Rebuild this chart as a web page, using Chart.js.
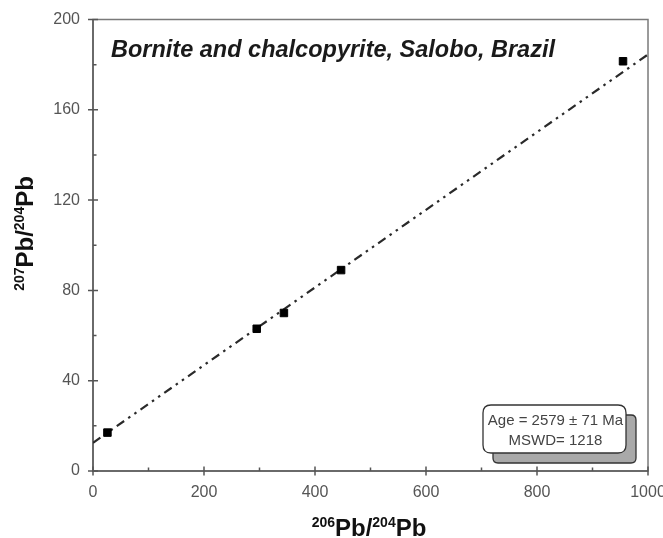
<!DOCTYPE html>
<html><head><meta charset="utf-8">
<script src="https://cdn.jsdelivr.net/npm/chart.js@4"></script>
<style>html,body{margin:0;padding:0;background:#fff}#wrap{width:663px;height:538px;position:relative}</style>
</head><body><div id="wrap"><canvas id="c" width="663" height="538"></canvas></div>
<script>
// ---- data ----
const sampleX = [26, 295, 344, 447, 955];
const sampleY = [17, 63, 70, 89, 181.5];
const regX = [0, 1000];
const regY = [12.5, 184.5];
const xMinorTicks = [100, 300, 500, 700, 900];
const yMinorTicks = [20, 60, 100, 140, 180];
const titleText = 'Bornite and chalcopyrite, Salobo, Brazil';
const ageLines = ['Age = 2579 \u00b1 71 Ma', 'MSWD= 1218'];

const FONT = "'Liberation Sans', Arial, sans-serif";

function drawComposite(ctx, parts, bigFont, smallFont, shift) {
  let total = 0;
  const widths = parts.map(p => { ctx.font = p[1] ? smallFont : bigFont; const w = ctx.measureText(p[0]).width; total += w; return w; });
  let x = -total / 2;
  parts.forEach((p, i) => {
    ctx.font = p[1] ? smallFont : bigFont;
    ctx.fillText(p[0], x, p[1] ? -shift : 0);
    x += widths[i];
  });
}

function roundRect(ctx, x, y, w, h, r) {
  ctx.beginPath();
  ctx.moveTo(x + r, y);
  ctx.lineTo(x + w - r, y);
  ctx.quadraticCurveTo(x + w, y, x + w, y + r);
  ctx.lineTo(x + w, y + h - r);
  ctx.quadraticCurveTo(x + w, y + h, x + w - r, y + h);
  ctx.lineTo(x + r, y + h);
  ctx.quadraticCurveTo(x, y + h, x, y + h - r);
  ctx.lineTo(x, y + r);
  ctx.quadraticCurveTo(x, y, x + r, y);
  ctx.closePath();
}

const decor = {
  id: 'decor',
  beforeDatasetsDraw(chart) {
    const {ctx, chartArea: a, scales: {x, y}} = chart;
    ctx.save();
    ctx.strokeStyle = '#7a7a7a';
    ctx.lineWidth = 1.5;
    ctx.strokeRect(a.left, a.top, a.right - a.left, a.bottom - a.top);
    ctx.strokeStyle = '#6a6a6a';
    ctx.lineWidth = 2;
    ctx.beginPath();
    ctx.moveTo(a.left, a.top); ctx.lineTo(a.left, a.bottom); ctx.lineTo(a.right, a.bottom);
    ctx.stroke();
    ctx.strokeStyle = '#555';
    ctx.lineWidth = 1.5;
    ctx.beginPath();
    x.ticks.forEach(t => { const px = x.getPixelForValue(t.value); ctx.moveTo(px, a.bottom - 4.5); ctx.lineTo(px, a.bottom + 4.5); });
    y.ticks.forEach(t => { const py = y.getPixelForValue(t.value); ctx.moveTo(a.left - 5, py); ctx.lineTo(a.left + 5, py); });
    xMinorTicks.forEach(v => { const px = x.getPixelForValue(v); ctx.moveTo(px, a.bottom); ctx.lineTo(px, a.bottom - 3.5); });
    yMinorTicks.forEach(v => { const py = y.getPixelForValue(v); ctx.moveTo(a.left, py); ctx.lineTo(a.left + 3.5, py); });
    ctx.stroke();
    ctx.restore();
  },
  afterDatasetsDraw(chart) {
    const {ctx} = chart;
    ctx.save();
    ctx.fillStyle = '#1a1a1a';
    ctx.font = 'italic bold 23.5px ' + FONT;
    ctx.textAlign = 'left';
    ctx.textBaseline = 'alphabetic';
    ctx.fillText(titleText, 111, 57);
    const bx = 483, by = 405, bw = 143, bh = 48;
    ctx.lineWidth = 1.3;
    ctx.strokeStyle = '#333';
    ctx.fillStyle = '#a9a9a9';
    roundRect(ctx, bx + 10, by + 10, bw, bh, 5);
    ctx.fill(); ctx.stroke();
    ctx.fillStyle = '#ffffff';
    roundRect(ctx, bx, by, bw, bh, 8);
    ctx.fill(); ctx.stroke();
    ctx.fillStyle = '#444';
    ctx.font = '15px ' + FONT;
    ctx.textAlign = 'center';
    ctx.textBaseline = 'middle';
    ctx.fillText(ageLines[0], bx + bw / 2 + 1, by + 16);
    ctx.fillText(ageLines[1], bx + bw / 2 + 1, by + 36);
    ctx.restore();
  },
  afterDraw(chart) {
    const {ctx} = chart;
    ctx.save();
    ctx.fillStyle = '#111';
    ctx.textAlign = 'left';
    ctx.textBaseline = 'alphabetic';
    const big = 'bold 24px ' + FONT, small = 'bold 14px ' + FONT;
    ctx.save();
    ctx.translate(369, 536);
    drawComposite(ctx, [['206', true], ['Pb/', false], ['204', true], ['Pb', false]], big, small, 9.5);
    ctx.restore();
    ctx.save();
    ctx.translate(33, 233.5);
    ctx.rotate(-Math.PI / 2);
    drawComposite(ctx, [['207', true], ['Pb/', false], ['204', true], ['Pb', false]], big, small, 9.5);
    ctx.restore();
    ctx.restore();
  }
};

new Chart(document.getElementById('c'), {
  type: 'scatter',
  data: {
    datasets: [
      {
        type: 'line',
        data: regX.map((v, i) => ({x: v, y: regY[i]})),
        borderColor: '#2a2a2a',
        borderWidth: 2.2,
        borderDash: [9, 5, 2.5, 5, 2.5, 5],
        pointRadius: 0,
        fill: false,
        order: 2
      },
      {
        data: sampleX.map((v, i) => ({x: v, y: sampleY[i]})),
        pointStyle: 'rect',
        pointRadius: 5.3,
        backgroundColor: '#000',
        borderColor: '#000',
        borderWidth: 1,
        order: 1
      }
    ]
  },
  options: {
    responsive: false,
    animation: false,
    devicePixelRatio: 1,
    layout: {padding: {top: 19.5, right: 15, left: 0, bottom: 0}},
    plugins: {legend: {display: false}, tooltip: {enabled: false}, title: {display: false}},
    scales: {
      x: {
        type: 'linear', min: 0, max: 1000,
        ticks: {stepSize: 200, color: '#555', font: {size: 16, family: FONT}, padding: 4, maxRotation: 0, callback: v => String(v)},
        grid: {display: false},
        border: {display: false},
        afterFit: s => { s.height = 67; s.paddingLeft = 0; s.paddingRight = 0; }
      },
      y: {
        type: 'linear', min: 0, max: 200,
        ticks: {stepSize: 40, color: '#555', font: {size: 16, family: FONT}, padding: 5, callback: v => String(v)},
        grid: {display: false},
        border: {display: false},
        afterFit: s => { s.width = 93; s.paddingTop = 0; s.paddingBottom = 0; }
      }
    }
  },
  plugins: [decor]
});
</script>
</body></html>
